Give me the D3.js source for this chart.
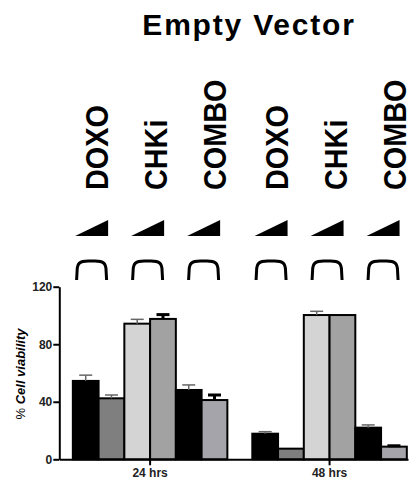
<!DOCTYPE html>
<html>
<head>
<meta charset="utf-8">
<script src="https://cdn.jsdelivr.net/npm/d3@7"></script>
<style>
  body { margin: 0; background: #fff; }
  svg { display: block; font-family: "Liberation Sans", Arial, sans-serif; }
  .axis path, .axis line { stroke: #000; stroke-width: 2; }
  .axis text { font-size: 12px; font-weight: bold; fill: #222; }
</style>
</head>
<body>
<div id="chart"></div>
<script>
// data
var times = ["24 hrs", "48 hrs"];
var treatments = ["DOXO", "CHKi", "COMBO"];
var series = ["DOXO lo", "DOXO hi", "CHKi lo", "CHKi hi", "COMBO lo", "COMBO hi"];
var means24 = [54.5, 42.4, 94.3, 97.6, 48.2, 41.2];
var errs24 = [4.0, 2.3, 3.0, 3.0, 3.5, 3.5];
var means48 = [17.8, 7.4, 100.3, 100.3, 22.0, 8.8];
var errs48 = [1.4, 0.0, 2.6, 0.0, 1.9, 0.6];
var yTicks = [0, 40, 80, 120];

var fills = ["#000000", "#7f7f7f", "#d4d4d4", "#a2a2a2", "#000000", "#a4a4aa"];
var errColor = ["#666", "#666", "#666", "#000", "#666", "#000"];
var errWidth = [1.5, 1.5, 1.5, 3, 1.5, 3];

var width = 412, height = 484;

var svg = d3.select("#chart").append("svg")
	.attr("width", width)
	.attr("height", height);

var y = d3.scaleLinear().domain([0, 120]).range([459.3, 286.7]);

var x0 = d3.scaleBand()
	.domain(times)
	.range([59.3, 408])
	.paddingInner(0.139)
	.paddingOuter(0.041)
	.align(0.92);

var x1 = d3.scaleBand()
	.domain(series)
	.range([0, x0.bandwidth()]);

// column positions for the header annotations
var annoX = d3.scalePoint().domain(treatments).range([-56, 56]);
var labelX = d3.scalePoint().domain(treatments).range([-59, 59]);

var rows = times.map(function(t, i) {
	var m = i == 0 ? means24 : means48;
	var e = i == 0 ? errs24 : errs48;
	return { time: t, bars: series.map(function(s, j) { return { key: s, idx: j, value: m[j], err: e[j] }; }) };
});

// title
svg.append("text")
	.attr("x", 249)
	.attr("y", 35)
	.attr("text-anchor", "middle")
	.style("font-size", "30px")
	.style("font-weight", "bold")
	.style("letter-spacing", "1.8px")
	.text("Empty Vector");

// header: labels, dose triangles, brackets
times.forEach(function(t) {
	var cx = x0(t) + x0.bandwidth() / 2;
	treatments.forEach(function(tr) {
		var lx = cx + 5.5 + labelX(tr) + 11.5;
		svg.append("text")
			.attr("transform", "translate(" + lx + ",190) rotate(-90) scale(0.9,1)")
			.style("font-size", "32px")
			.style("font-weight", "bold")
			.text(tr);

		var ax = cx - 2.5 + annoX(tr);
		svg.append("path")
			.attr("d", "M" + (ax - 16.5) + ",236 L" + (ax + 16.5) + ",236 L" + (ax + 16.5) + ",220 Z")
			.attr("fill", "#000");

		var l = ax - 14.5, r = ax + 14.5;
		svg.append("path")
			.attr("d", "M" + (l - 0.5) + ",280 L" + l + ",271 C" + l + ",263 " + (l + 3) + ",261 " + (l + 11) + ",261 L" + (r - 11) + ",261 C" + (r - 3) + ",261 " + r + ",263 " + r + ",271 L" + (r + 0.5) + ",280")
			.attr("fill", "none")
			.attr("stroke", "#000")
			.attr("stroke-width", 3);
	});
});

// bars
var groups = svg.append("g").selectAll("g")
	.data(rows)
	.enter().append("g")
	.attr("transform", function(d) { return "translate(" + x0(d.time) + ",0)"; });

groups.selectAll("rect")
	.data(function(d) { return d.bars; })
	.enter().append("rect")
	.attr("x", function(d) { return x1(d.key); })
	.attr("y", function(d) { return y(d.value); })
	.attr("width", x1.bandwidth())
	.attr("height", function(d) { return y(0) - y(d.value); })
	.attr("fill", function(d) { return fills[d.idx]; })
	.attr("stroke", "#000")
	.attr("stroke-width", 2);

var eb = groups.selectAll("g.err")
	.data(function(d) { return d.bars.filter(function(b) { return b.err > 0; }); })
	.enter().append("g")
	.attr("class", "err")
	.attr("stroke", function(d) { return errColor[d.idx]; })
	.attr("stroke-width", function(d) { return errWidth[d.idx]; });

eb.append("line")
	.attr("x1", function(d) { return x1(d.key) + x1.bandwidth() / 2; })
	.attr("x2", function(d) { return x1(d.key) + x1.bandwidth() / 2; })
	.attr("y1", function(d) { return y(d.value); })
	.attr("y2", function(d) { return y(d.value + d.err); });

eb.append("line")
	.attr("x1", function(d) { return x1(d.key) + x1.bandwidth() / 2 - 6.5; })
	.attr("x2", function(d) { return x1(d.key) + x1.bandwidth() / 2 + 6.5; })
	.attr("y1", function(d) { return y(d.value + d.err); })
	.attr("y2", function(d) { return y(d.value + d.err); });

// axes
svg.append("g")
	.attr("class", "axis")
	.attr("transform", "translate(59.3,0)")
	.call(d3.axisLeft(y).tickValues(yTicks).tickSize(6).tickSizeOuter(0).tickPadding(1));

svg.append("g")
	.attr("class", "axis")
	.attr("transform", "translate(0," + y(0) + ")")
	.call(d3.axisBottom(x0).tickSize(6).tickSizeOuter(0).tickPadding(3));

// y label
var yl = svg.append("text")
	.attr("transform", "translate(25,374) rotate(-90)")
	.attr("text-anchor", "middle")
	.style("font-size", "13px");
yl.append("tspan").text("% ");
yl.append("tspan").style("font-weight", "bold").style("font-style", "italic").text("Cell viability");
</script>
</body>
</html>
